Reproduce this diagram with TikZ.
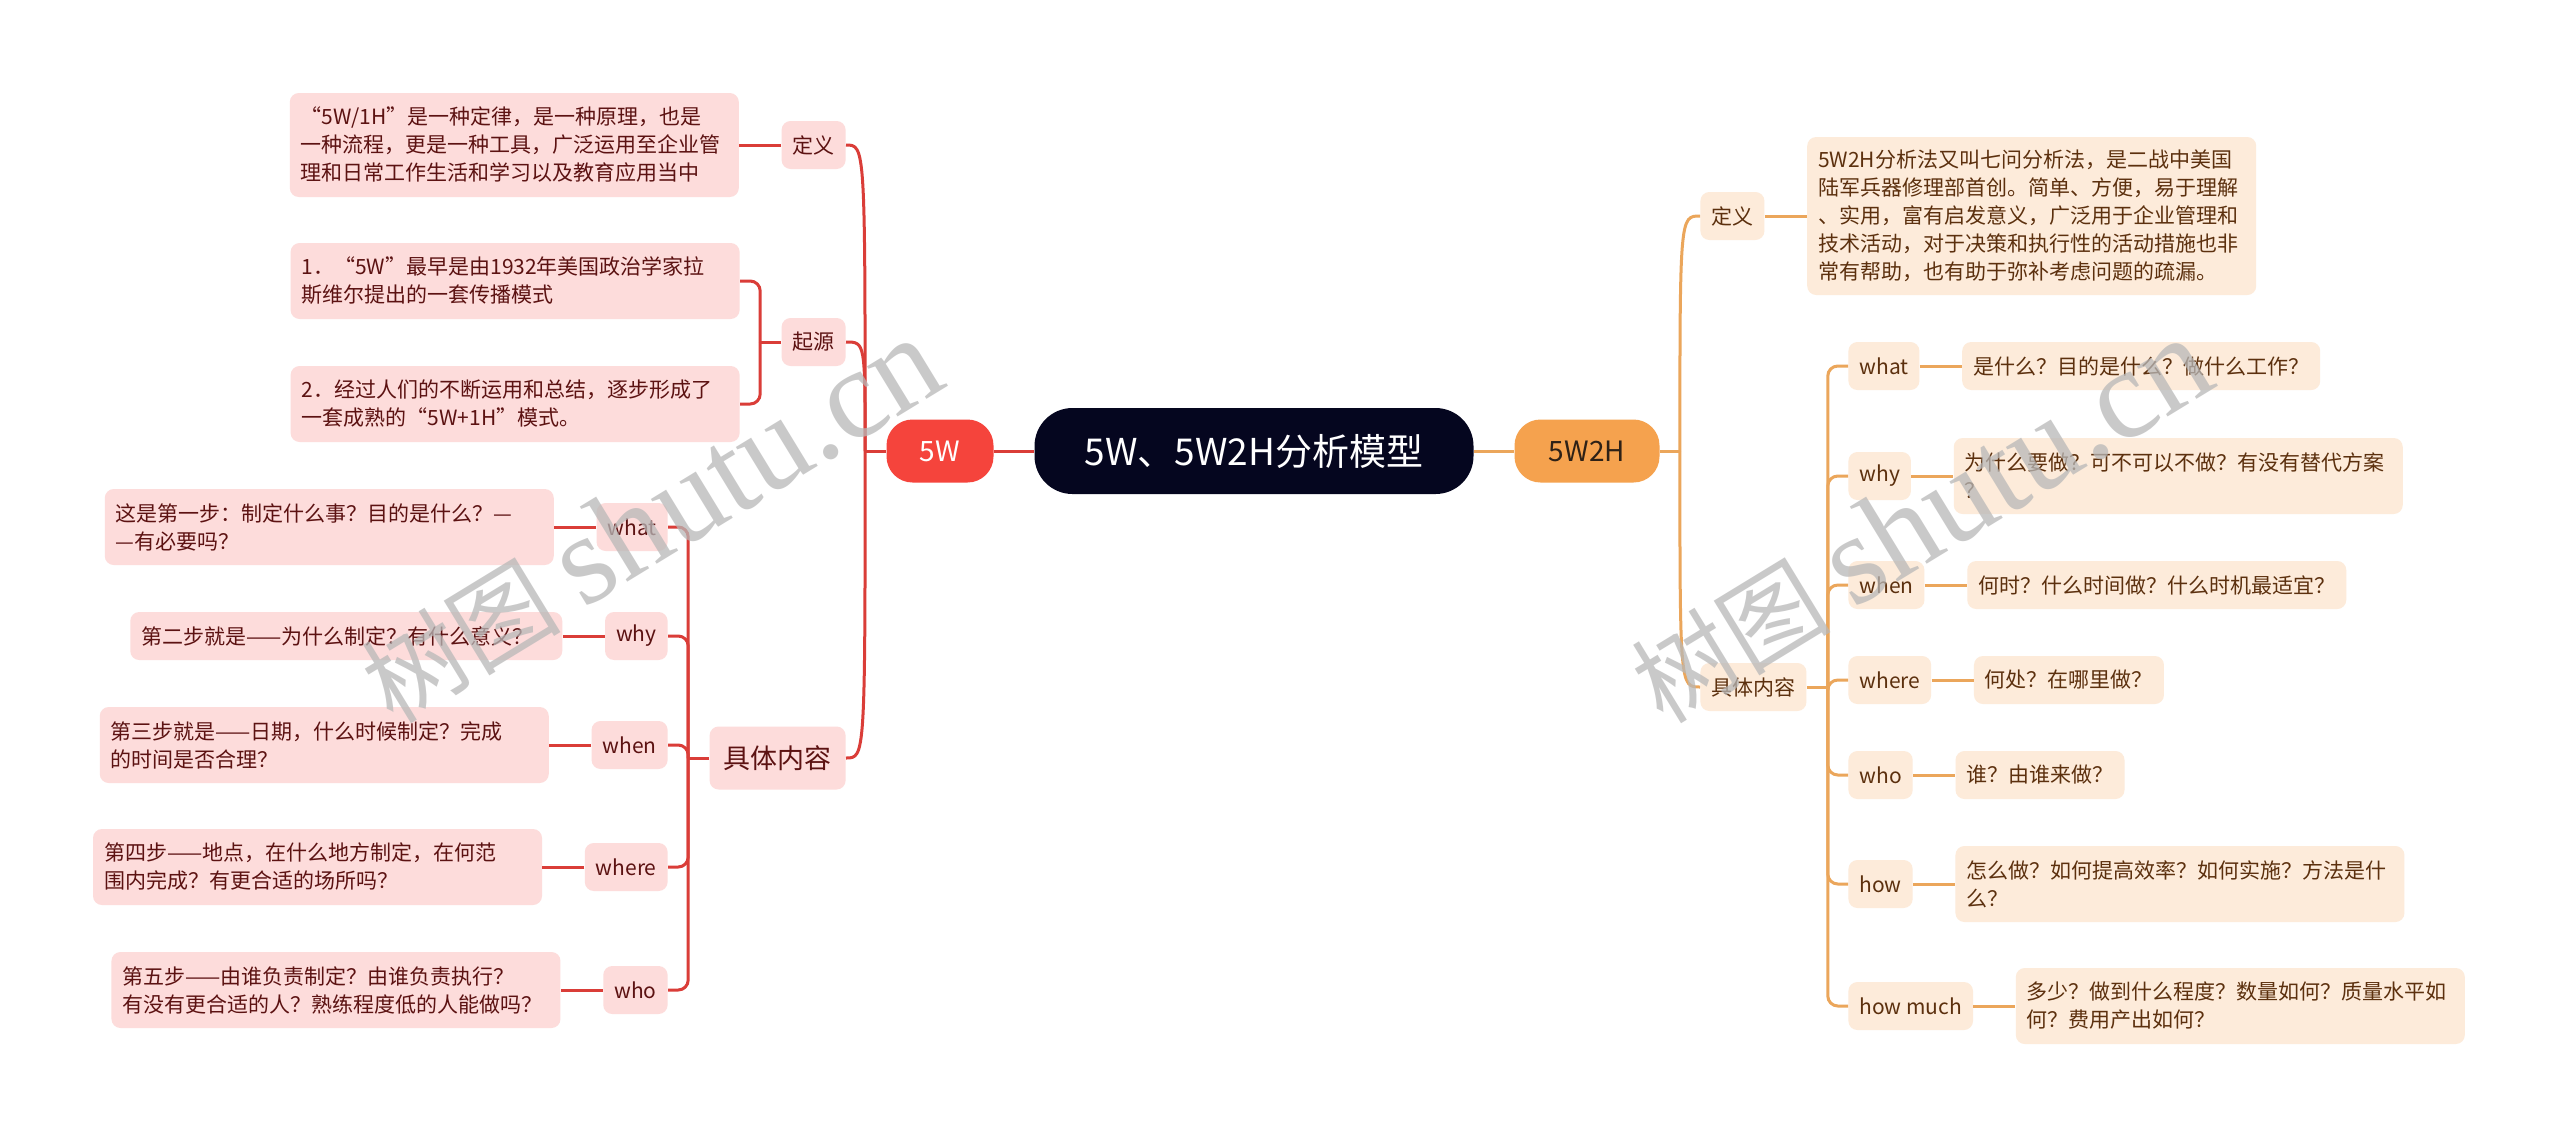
\documentclass[tikz,border=0pt]{standalone}
\usepackage{fontspec}
\setmainfont{Noto Sans CJK SC}
\newfontfamily\wmlatin{Liberation Serif}
\usetikzlibrary{positioning}
\definecolor{lred}{HTML}{DA3D38}
\definecolor{pinkfill}{HTML}{FDDCDB}
\definecolor{redtext}{HTML}{5C1212}
\definecolor{fivew}{HTML}{F5443C}
\definecolor{lorange}{HTML}{EBA65B}
\definecolor{peach}{HTML}{FDEBDA}
\definecolor{browntext}{HTML}{5C300E}
\definecolor{orangefill}{HTML}{F5A24E}
\definecolor{navy}{HTML}{05061F}
\definecolor{wmgray}{HTML}{B8B8B8}
\definecolor{darktext}{HTML}{2E2116}
\begin{document}
\begin{tikzpicture}[x=0.5pt,y=-0.5pt,
  mmbase/.style={inner xsep=5.5pt, inner ysep=0pt, rounded corners=4.5pt,
    font=\fontsize{10.5pt}{14pt}\selectfont, minimum height=24pt},
  ltag/.style={mmbase, fill=pinkfill, text=redtext},
  rtag/.style={mmbase, fill=peach, text=browntext},
  ltxt/.style={ltag, align=left},
  rtxt/.style={rtag, align=left},
  wide/.style={text width=213.5pt},
  twol/.style={minimum height=38pt},
  threel/.style={minimum height=52pt},
  fivel/.style={minimum height=79pt},
  redline/.style={draw=lred, line width=1.5pt},
  orline/.style={draw=lorange, line width=1.5pt},
  node distance=21pt
]
\useasboundingbox[fill=white] (0,0) rectangle (2560,1137);

% central
\node[fill=navy, text=white, rounded corners=19pt, minimum width=219.5pt,
  minimum height=43pt, font=\fontsize{18.5pt}{20pt}\selectfont] (title) at (1254,451) {5W、5W2H分析模型};
\node[fill=fivew, text=white, rounded corners=13pt, minimum width=53.5pt,
  minimum height=31.5pt, font=\fontsize{14pt}{16pt}\selectfont] (w5) at (940,451) {5W};
\node[fill=orangefill, text=darktext, rounded corners=13pt, minimum width=72.5pt,
  minimum height=31.5pt, font=\fontsize{14pt}{16pt}\selectfont] (w52h) at (1587,451) {5W2H};

% ---------- left ----------
\node[ltag, anchor=east] (defL) at (846,145) {定义};
\node[ltxt, wide, threel, left=of defL] (defLt) {“5W/1H”是一种定律，是一种原理，也是\\一种流程，更是一种工具，广泛运用至企业管\\理和日常工作生活和学习以及教育应用当中};
\node[ltag, anchor=east] (oriL) at (846,342) {起源};
\node[ltxt, wide, twol, anchor=east] (ori1) at (740,281) {1．“5W”最早是由1932年美国政治学家拉\\斯维尔提出的一套传播模式};
\node[ltxt, wide, twol, anchor=east] (ori2) at (740,404) {2．经过人们的不断运用和总结，逐步形成了\\一套成熟的“5W+1H”模式。};
\node[ltag, anchor=east, inner xsep=7pt, minimum height=31.5pt, font=\fontsize{13.5pt}{16pt}\selectfont] (conL) at (846,758) {具体内容};

\node[ltag, anchor=east] (whatL) at (668,527) {what};
\node[ltxt, wide, twol, left=of whatL] (whatLt) {这是第一步：制定什么事？目的是什么？—\\—有必要吗？};
\node[ltag, anchor=east] (whyL) at (668,636) {why};
\node[ltxt, text width=205pt, left=of whyL] (whyLt) {第二步就是——为什么制定？有什么意义？};
\node[ltag, anchor=east] (whenL) at (668,745) {when};
\node[ltxt, wide, twol, left=of whenL] (whenLt) {第三步就是——日期，什么时候制定？完成\\的时间是否合理？};
\node[ltag, anchor=east] (whereL) at (668,867) {where};
\node[ltxt, wide, twol, left=of whereL] (whereLt) {第四步——地点，在什么地方制定，在何范\\围内完成？有更合适的场所吗？};
\node[ltag, anchor=east] (whoL) at (668,990) {who};
\node[ltxt, wide, twol, left=of whoL] (whoLt) {第五步——由谁负责制定？由谁负责执行？\\有没有更合适的人？熟练程度低的人能做吗？};

% ---------- right ----------
\node[rtag, anchor=west] (defR) at (1700,216) {定义};
\node[rtxt, wide, fivel, right=of defR] (defRt) {5W2H分析法又叫七问分析法，是二战中美国\\陆军兵器修理部首创。简单、方便，易于理解\\、实用，富有启发意义，广泛用于企业管理和\\技术活动，对于决策和执行性的活动措施也非\\常有帮助，也有助于弥补考虑问题的疏漏。};
\node[rtag, anchor=west] (conR) at (1700,687) {具体内容};

\node[rtag, anchor=west] (whatR) at (1848,366) {what};
\node[rtxt, right=of whatR] (whatRt) {是什么？目的是什么？做什么工作？};
\node[rtag, anchor=west] (whyR) at (1848,476) {why};
\node[rtxt, wide, twol, right=of whyR] (whyRt) {为什么要做？可不可以不做？有没有替代方案\\？};
\node[rtag, anchor=west] (whenR) at (1848,585) {when};
\node[rtxt, right=of whenR] (whenRt) {何时？什么时间做？什么时机最适宜？};
\node[rtag, anchor=west] (whereR) at (1848,680) {where};
\node[rtxt, right=of whereR] (whereRt) {何处？在哪里做？};
\node[rtag, anchor=west] (whoR) at (1848,775) {who};
\node[rtxt, right=of whoR] (whoRt) {谁？由谁来做？};
\node[rtag, anchor=west] (howR) at (1848,884) {how};
\node[rtxt, wide, twol, right=of howR] (howRt) {怎么做？如何提高效率？如何实施？方法是什\\么？};
\node[rtag, anchor=west] (hmR) at (1848,1006) {how much};
\node[rtxt, wide, twol, right=of hmR] (hmRt) {多少？做到什么程度？数量如何？质量水平如\\何？费用产出如何？};

% ---------- connectors ----------
\draw[redline] (title.west) -- (w5.east);
\draw[orline] (title.east) -- (w52h.west);

\coordinate (jL) at ([xshift=-10.5pt]w5.west);
\draw[redline] (w5.west) -- (jL);
\foreach \c in {defL,oriL,conL}
  \draw[redline] (jL) .. controls (jL |- \c.east) .. (\c.east);
\draw[redline] (defL.west) -- (defLt.east);
\coordinate (sOri) at ([xshift=-10.5pt]oriL.west);
\draw[redline] (oriL.west) -- (sOri);
\foreach \c in {ori1,ori2}
  \draw[redline, rounded corners=5pt] (sOri) |- (\c.east);
\coordinate (sConL) at ([xshift=-10.5pt]conL.west);
\draw[redline] (conL.west) -- (sConL);
\foreach \c in {whatL,whyL,whenL,whereL,whoL}{
  \draw[redline, rounded corners=5pt] (sConL) |- (\c.east);
  \draw[redline] (\c.west) -- (\c t.east);
}

\coordinate (jR) at ([xshift=10pt]w52h.east);
\draw[orline] (w52h.east) -- (jR);
\foreach \c in {defR,conR}
  \draw[orline] (jR) .. controls (jR |- \c.west) .. (\c.west);
\draw[orline] (defR.east) -- (defRt.west);
\coordinate (sConR) at ([xshift=10.5pt]conR.east);
\draw[orline] (conR.east) -- (sConR);
\foreach \c in {whatR,whyR,whenR,whereR,whoR,howR,hmR}{
  \draw[orline, rounded corners=5pt] (sConR) |- (\c.west);
  \draw[orline] (\c.east) -- (\c t.west);
}

% ---------- watermarks ----------
\foreach \wx/\nm in {651/wmA,1921/wmB}
  \node[rotate=31.4, text=wmgray, opacity=0.75, inner sep=0pt] (\nm) at (\wx,521)
    {\fontsize{50pt}{50pt}\selectfont 树图 {\wmlatin\fontsize{64pt}{64pt}\selectfont shutu.cn}};
\end{tikzpicture}
\end{document}
